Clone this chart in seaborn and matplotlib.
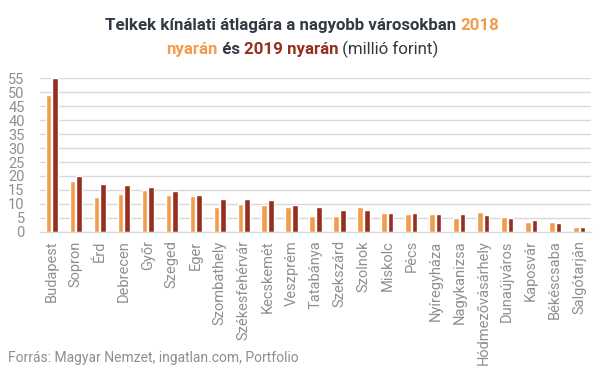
import seaborn as sns
import matplotlib.pyplot as plt
import pandas as pd

cities = ["Budapest", "Sopron", "Érd", "Debrecen", "Győr", "Szeged", "Eger",
          "Szombathely", "Székesfehérvár", "Kecskemét", "Veszprém", "Tatabánya",
          "Szekszárd", "Szolnok", "Miskolc", "Pécs", "Nyíregyháza", "Nagykanizsa",
          "Hódmezővásárhely", "Dunaújváros", "Kaposvár", "Békéscsaba", "Salgótarján"]
v2018 = [48.8, 18.3, 12.4, 13.7, 15.1, 13.3, 13.0, 9.0, 10.1, 9.8, 9.0, 5.8,
         5.8, 9.0, 6.9, 6.5, 6.5, 5.1, 7.3, 5.5, 3.7, 3.7, 1.9]
v2019 = [55.0, 19.9, 17.3, 16.9, 16.0, 14.8, 13.3, 11.9, 11.9, 11.5, 9.8, 9.0,
         8.0, 8.0, 6.9, 6.9, 6.5, 6.5, 6.2, 5.1, 4.4, 3.3, 1.9]
years = ["2018", "2019"]
colors = ["#F29D4B", "#962F20"]

df = pd.DataFrame({
    "Város": cities * 2,
    "Ár": v2018 + v2019,
    "Év": [years[0]] * len(cities) + [years[1]] * len(cities),
})

sns.set_style("white")
plt.rcParams["font.family"] = ["Roboto", "DejaVu Sans"]

fig = plt.figure(figsize=(6.05, 3.79), dpi=100)
ax = fig.add_axes([0.066, 0.388, 0.911, 0.406])
sns.barplot(data=df, x="Város", y="Ár", hue="Év", palette=colors,
            width=0.55, gap=0.15, saturation=1, legend=False, ax=ax)

ax.set_ylim(0, 55)
ax.set_xlim(-0.5, len(cities) - 0.5)
ax.set_yticks(range(0, 56, 5))
ax.yaxis.grid(True, color="#d9d9d9", linewidth=1)
ax.set_axisbelow(True)
for s in ["top", "right", "left"]:
    ax.spines[s].set_visible(False)
ax.spines["bottom"].set_color("#d9d9d9")
ax.set_xlabel("")
ax.set_ylabel("")
ax.tick_params(axis="both", length=0, colors="#8f8f8f", labelsize=10.5)
ax.tick_params(axis="x", pad=6)
ax.tick_params(axis="y", pad=11)
plt.setp(ax.get_xticklabels(), rotation=90)

# title with colored pieces
dark = "#333a44"
lines = [
    [("Telkek kínálati átlagára a nagyobb városokban ", dark, "bold"),
     ("2018", colors[0], "bold")],
    [("nyarán", colors[0], "bold"), (" és ", dark, "bold"),
     ("2019 nyarán", colors[1], "bold"), (" (millió forint)", dark, "normal")],
]
fig.canvas.draw()
r = fig.canvas.get_renderer()
for ys, parts in zip([0.922, 0.857], lines):
    texts = [fig.text(0, ys, t, color=c, fontweight=w, fontsize=12.2, va="baseline")
             for t, c, w in parts]
    widths = [t.get_window_extent(r).width for t in texts]
    x = (605 - sum(widths)) / 2
    for t, wd in zip(texts, widths):
        t.set_x(x / 605)
        x += wd

fig.text(0.013, 0.045, "Forrás: Magyar Nemzet, ingatlan.com, Portfolio",
         color="#8f8f8f", fontsize=10)

fig.savefig("out.png", dpi=100)
